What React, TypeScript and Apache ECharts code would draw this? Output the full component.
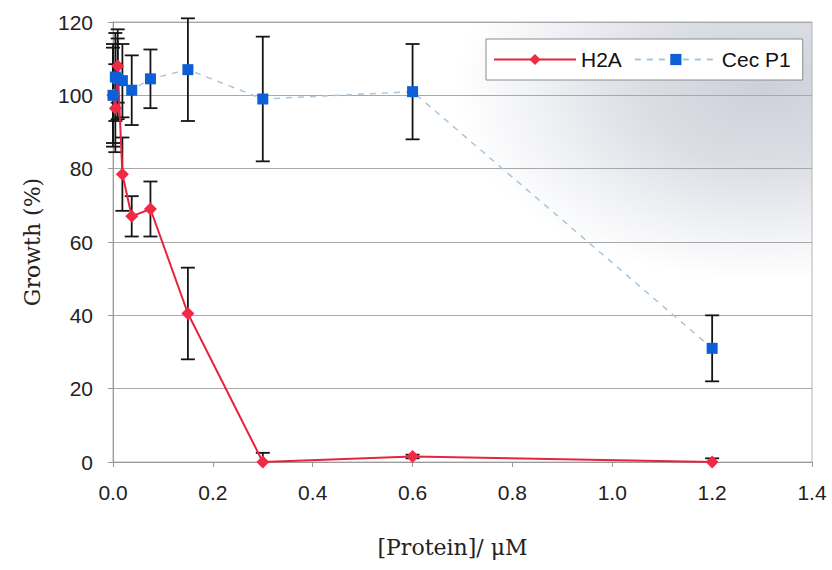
import React, { useEffect, useRef } from "react";
import * as echarts from "echarts";

// Protein concentrations (µM), two-fold dilution series plus control
const concentrations = [0, 0.0047, 0.0094, 0.0188, 0.0375, 0.075, 0.15, 0.3, 0.6, 1.2];

// Growth (%) for each treatment
const h2aGrowth = [100, 96.5, 108, 78.5, 67, 69, 40.5, 0, 1.5, 0];
const h2aError = [13, 12, 10, 10, 5.5, 7.5, 12.5, 2.5, 0.5, 1];

const cecGrowth = [100, 105, 104.5, 104, 101.4, 104.5, 107, 99, 101, 31];
const cecError = [14, 12, 11, 10, 9.5, 8, 14, 17, 13, 9];

const xTicks = [0, 0.2, 0.4, 0.6, 0.8, 1.0, 1.2, 1.4];
const yTicks = [0, 20, 40, 60, 80, 100, 120];

const SANS = "'Liberation Sans', Arial, sans-serif";
const SERIF = "'DejaVu Serif', 'Liberation Serif', serif";

function pairs(xs: number[], ys: number[]) {
  return xs.map((x, i) => [x, ys[i]]);
}

function errorData(xs: number[], ys: number[], es: number[]) {
  return xs.map((x, i) => [x, ys[i], es[i]]);
}

// Vertical error bars with caps; the lower whisker stops at the x axis
function errorBarSeries(name: string, data: number[][]) {
  return {
    type: "custom",
    name,
    data,
    z: 1,
    clip: false,
    encode: { x: 0, y: 1 },
    renderItem: (_params: any, api: any) => {
      const x = api.value(0);
      const y = api.value(1);
      const e = api.value(2);
      const top = api.coord([x, y + e]);
      const bot = api.coord([x, Math.max(y - e, 0)]);
      const hw = 7;
      const style = { stroke: "#151515", lineWidth: 1.8 };
      const children: any[] = [
        { type: "line", shape: { x1: top[0], y1: top[1], x2: bot[0], y2: bot[1] }, style },
        { type: "line", shape: { x1: top[0] - hw, y1: top[1], x2: top[0] + hw, y2: top[1] }, style },
      ];
      if (y - e >= 0) {
        children.push({
          type: "line",
          shape: { x1: bot[0] - hw, y1: bot[1], x2: bot[0] + hw, y2: bot[1] },
          style,
        });
      }
      return { type: "group", children };
    },
  };
}

export default function App() {
  const ref = useRef<HTMLDivElement>(null);

  useEffect(() => {
    if (!ref.current) return;
    const chart = echarts.init(ref.current, undefined, { renderer: "svg" });

    chart.setOption({
      animation: false,
      backgroundColor: "#ffffff",
      grid: {
        left: 113,
        top: 22,
        right: 20,
        bottom: 108,
        show: true,
        borderColor: "#b4b4b4",
        borderWidth: 1,
        backgroundColor: {
          type: "radial",
          x: 0.93,
          y: 0.15,
          r: 0.44,
          colorStops: [
            { offset: 0, color: "#cdd0d9" },
            { offset: 0.4, color: "#dcdee5" },
            { offset: 0.75, color: "#f1f2f5" },
            { offset: 1, color: "#ffffff" },
          ],
        },
      },
      legend: {
        left: 486,
        top: 39,
        orient: "horizontal",
        backgroundColor: "#ffffff",
        borderColor: "#8c8c8c",
        borderWidth: 1,
        borderRadius: 0,
        padding: [10, 12, 10, 7],
        itemGap: 12,
        itemWidth: 82,
        itemHeight: 14,
        textStyle: { fontFamily: SANS, fontSize: 21, color: "#111" },
        data: ["H2A", "Cec P1"],
      },
      xAxis: {
        type: "value",
        min: 0,
        max: 1.4,
        interval: 0.2,
        name: "[Protein]/ \u03BCM",
        nameLocation: "middle",
        nameGap: 74,
        nameTextStyle: { fontFamily: SERIF, fontSize: 22, color: "#222", padding: [0, 20, 0, 0] },
        axisLine: { show: true, lineStyle: { color: "#9a9a9a", width: 1 } },
        axisTick: { show: true, inside: false, length: 5, lineStyle: { color: "#9a9a9a" } },
        splitLine: { show: false },
        axisLabel: {
          margin: 20,
          fontFamily: SANS,
          fontSize: 21,
          color: "#222",
          formatter: (v: number) => {
            const t = xTicks.find((k) => Math.abs(k - v) < 1e-9);
            return t === undefined ? "" : t.toFixed(1);
          },
        },
      },
      yAxis: {
        type: "value",
        min: 0,
        max: 120,
        interval: 20,
        name: "Growth (%)",
        nameLocation: "middle",
        nameGap: 70,
        nameTextStyle: { fontFamily: SERIF, fontSize: 22, color: "#222" },
        axisLine: { show: true, lineStyle: { color: "#9a9a9a", width: 1 } },
        axisTick: { show: true, inside: false, length: 5, lineStyle: { color: "#9a9a9a" } },
        splitLine: { show: true, lineStyle: { color: "#a8a8a8", width: 1 } },
        axisLabel: {
          margin: 20,
          fontFamily: SANS,
          fontSize: 21,
          color: "#222",
          formatter: (v: number) => (yTicks.includes(v) ? String(v) : ""),
        },
      },
      series: [
        errorBarSeries("H2A err", errorData(concentrations, h2aGrowth, h2aError)),
        errorBarSeries("Cec err", errorData(concentrations, cecGrowth, cecError)),
        {
          type: "line",
          name: "H2A",
          data: pairs(concentrations, h2aGrowth),
          z: 3,
          symbol: "diamond",
          symbolSize: 13,
          lineStyle: { color: "#e8233f", width: 2 },
          itemStyle: { color: "#f02a45" },
        },
        {
          type: "line",
          name: "Cec P1",
          data: pairs(concentrations, cecGrowth),
          z: 4,
          symbol: "rect",
          symbolSize: 11,
          lineStyle: { color: "#a9c6dc", width: 1.5, type: [6, 6] },
          itemStyle: { color: "#0c5fd6" },
        },
      ],
    });

    return () => chart.dispose();
  }, []);

  return (
    <div
      ref={ref}
      style={{ position: "fixed", left: 0, top: 0, width: 832, height: 570 }}
    />
  );
}
